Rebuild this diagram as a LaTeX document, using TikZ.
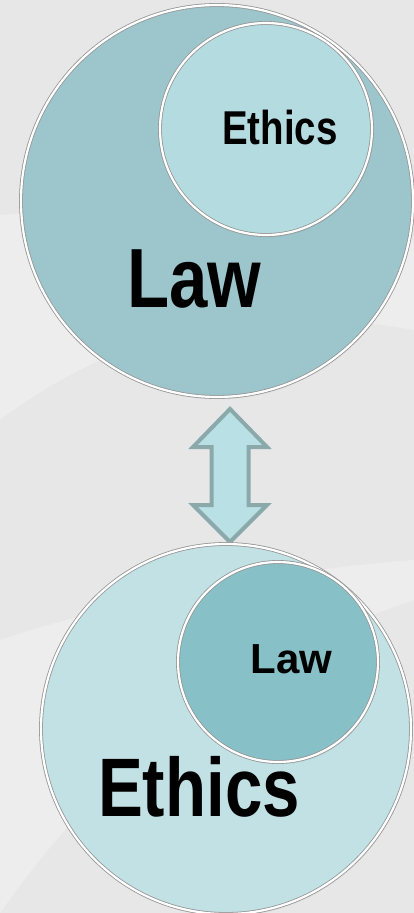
\documentclass[tikz,border=0pt]{standalone}
\usepackage{fontspec}
\setmainfont{Liberation Sans}
\usetikzlibrary{shadows}
\definecolor{bgc}{HTML}{E7E7E7}
\definecolor{tealA}{HTML}{9CC6CB}
\definecolor{tealB}{HTML}{B4DCE0}
\definecolor{tealC}{HTML}{C1E1E5}
\definecolor{tealD}{HTML}{87C0C7}
\definecolor{rimc}{HTML}{959595}
\definecolor{arrfill}{HTML}{B9E0E4}
\definecolor{arrline}{HTML}{8BA9AB}
\tikzset{
  disc/.style={circle, inner sep=0pt, draw=rimc, double=white, double distance=2.2pt, line width=0.8pt,
    circular drop shadow={shadow xshift=1.5pt, shadow yshift=-2.5pt, fill=black, opacity=.3, shadow scale=1.0}},
  lbl/.style={inner sep=0pt, anchor=base, font=\bfseries},
  blockarrow/.style={fill=arrfill, draw=arrline, line width=4pt, line join=miter}
}
\begin{document}
\begin{tikzpicture}[x=1pt,y=-1pt]
\fill[bgc] (0,0) rectangle (414,913);
\useasboundingbox (0,0) rectangle (414,913);
% subtle background swooshes
\fill[white, opacity=.25] (0,215) .. controls (150,200) and (300,215) .. (414,240) -- (414,330) .. controls (250,300) and (120,330) .. (0,420) -- cycle;
\fill[white, opacity=.25] (0,640) .. controls (120,600) and (280,570) .. (414,560) -- (414,600) .. controls (300,640) and (150,700) .. (0,913) -- cycle;
% top pair
\node[disc, fill=tealA, minimum size=392pt] (lawbig) at (217,201) {};
\node[disc, fill=tealB, minimum size=212pt] (ethsmall) at (266,129) {};
\node[lbl, font=\bfseries\fontsize{47.5}{50}\selectfont] (ethsmalltxt) at (280,144) {\scalebox{0.81}[1]{Ethics}};
\node[lbl, font=\bfseries\fontsize{84}{88}\selectfont] (lawbigtxt) at (194,307) {\scalebox{0.82}[1]{Law}};
% arrow
\coordinate (atop) at (230,409);
\coordinate (abot) at (230,542);
\filldraw[blockarrow] (atop) -- (267,447) -- (248.5,447) -- (248.5,505) -- (267,505) -- (abot) -- (193,505) -- (211.5,505) -- (211.5,447) -- (193,447) -- cycle;
% bottom pair
\node[disc, fill=tealC, minimum size=370pt] (ethbig) at (226,729) {};
\node[disc, fill=tealD, minimum size=200pt] (lawsmall) at (278,662) {};
\node[lbl, font=\bfseries\fontsize{42}{46}\selectfont] (lawsmalltxt) at (291.5,673) {Law};
\node[lbl, font=\bfseries\fontsize{83}{88}\selectfont] (ethbigtxt) at (199,816) {\scalebox{0.81}[1]{Ethics}};
\end{tikzpicture}
\end{document}
